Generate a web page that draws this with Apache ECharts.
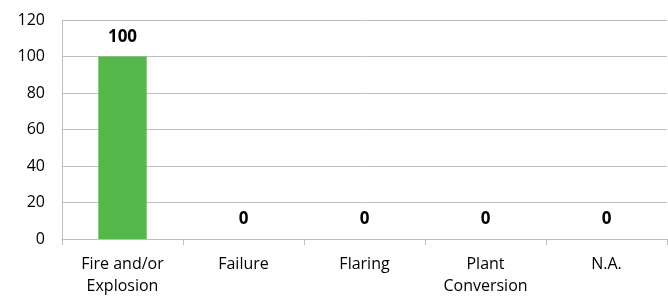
<!DOCTYPE html>
<html>
<head>
<meta charset="utf-8">
<script src="https://cdn.jsdelivr.net/npm/echarts@6/dist/echarts.min.js"></script>
<style>
  html, body { margin: 0; padding: 0; background: #fff; }
  #chart { width: 668px; height: 297px; }
</style>
</head>
<body>
<div id="chart"></div>
<script>
var categories = ['Fire and/or\nExplosion', 'Failure', 'Flaring', 'Plant\nConversion', 'N.A.'];
var values = [100, 0, 0, 0, 0];

var myChart = echarts.init(document.getElementById('chart'));
var option = {
    animation: false,
    grid: { left: 62, right: 1, top: 20, bottom: 57 },
    xAxis: {
        type: 'category',
        data: categories,
        axisLine: { lineStyle: { color: '#bfbfbf' } },
        axisTick: { show: true, length: 6, lineStyle: { color: '#bfbfbf' } },
        axisLabel: {
            color: '#000', fontSize: 16, fontFamily: 'Open Sans',
            lineHeight: 22, margin: 14, interval: 0
        }
    },
    yAxis: {
        type: 'value',
        min: 0, max: 120, interval: 20,
        axisLine: { show: true, lineStyle: { color: '#bfbfbf' } },
        axisTick: { show: false },
        splitLine: { lineStyle: { color: '#bfbfbf' } },
        axisLabel: { color: '#000', fontSize: 16, fontFamily: 'Open Sans', margin: 17 }
    },
    series: [{
        type: 'bar',
        data: values,
        barWidth: '40%',
        itemStyle: { color: '#56b84a' },
        label: {
            show: true, position: 'top', distance: 11,
            fontWeight: 'bold', fontSize: 17, fontFamily: 'Open Sans', color: '#000'
        }
    }]
};
myChart.setOption(option);
</script>
</body>
</html>
